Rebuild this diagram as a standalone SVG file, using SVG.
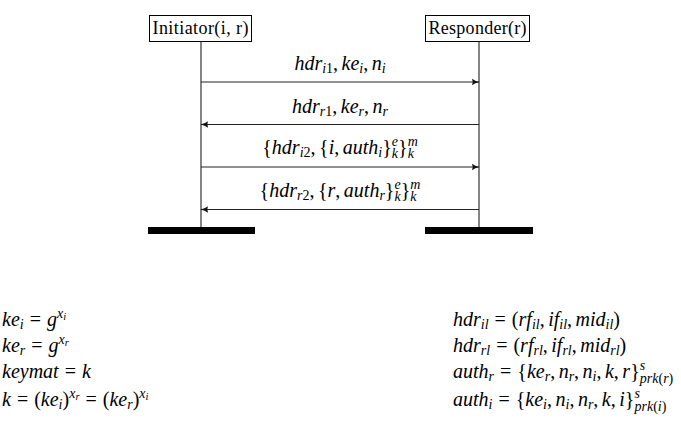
<svg xmlns="http://www.w3.org/2000/svg" width="681" height="434" viewBox="0 0 681 434">
<style>
text{font-family:"Liberation Serif","DejaVu Serif",serif;font-size:18px;fill:#000}
.m{font-style:italic;font-size:20px}
.u{font-style:normal}
.s{font-size:14px}
.ss{font-size:10.5px}
.ll{stroke:#333;stroke-width:1.2;fill:none}
.msg{stroke:#222;stroke-width:1;fill:none;marker-end:url(#ah)}
.box{fill:#fff;stroke:#000;stroke-width:1}
.bar{fill:#000}
</style>
<defs>
<marker id="ah" markerWidth="8" markerHeight="8" viewBox="0 0 8 8" refX="7" refY="4" orient="auto" markerUnits="userSpaceOnUse">
<path d="M0,0.8 Q3,3.2 7.5,4 Q3,4.8 0,7.2 Q1.5,4 0,0.8 Z" fill="#111"/>
</marker>
</defs>

<g id="initiator">
<rect class="box" x="149.5" y="15.5" width="102" height="26"/>
<text x="200.5" y="34" text-anchor="middle" textLength="96">Initiator(i, r)</text>
<rect class="bar" x="148" y="227" width="107" height="7"/>
</g>

<g id="responder">
<rect class="box" x="425.5" y="15.5" width="104" height="26"/>
<text x="477.5" y="34" text-anchor="middle" textLength="98">Responder(r)</text>
<rect class="bar" x="425" y="227" width="108" height="7"/>
</g>

<g id="connectors">
<line class="ll" x1="201" y1="41.5" x2="201" y2="227"/>
<line class="ll" x1="479" y1="41.5" x2="479" y2="227"/>
<line class="msg" x1="201" y1="82" x2="479" y2="82"/>
<line class="msg" x1="479" y1="124.5" x2="201" y2="124.5"/>
<line class="msg" x1="201" y1="167" x2="479" y2="167"/>
<line class="msg" x1="479" y1="209.5" x2="201" y2="209.5"/>
</g>

<g id="labels">
<text x="340" y="70" text-anchor="middle" class="m">hdr<tspan class="s" dy="3">i</tspan><tspan class="s u">1</tspan><tspan class="u" dy="-3">,</tspan><tspan dx="3.5">ke</tspan><tspan class="s" dy="3">i</tspan><tspan class="u" dy="-3">,</tspan><tspan dx="3.5">n</tspan><tspan class="s" dy="3">i</tspan></text>
<text x="340" y="113" text-anchor="middle" class="m">hdr<tspan class="s" dy="3">r</tspan><tspan class="s u">1</tspan><tspan class="u" dy="-3">,</tspan><tspan dx="3.5">ke</tspan><tspan class="s" dy="3">r</tspan><tspan class="u" dy="-3">,</tspan><tspan dx="3.5">n</tspan><tspan class="s" dy="3">r</tspan></text>
<text x="340" y="154" text-anchor="middle" class="m"><tspan class="u">{</tspan>hdr<tspan class="s" dy="3">i</tspan><tspan class="s u">2</tspan><tspan class="u" dy="-3">,</tspan><tspan class="u" dx="3.5">{</tspan>i<tspan class="u">,</tspan><tspan dx="3.5">auth</tspan><tspan class="s" dy="3">i</tspan><tspan class="u" dy="-3">}</tspan><tspan class="s" dy="-8">e</tspan><tspan class="s" dx="-6.2" dy="12">k</tspan><tspan class="u" dy="-4">}</tspan><tspan class="s" dy="-8">m</tspan><tspan class="s" dx="-10.1" dy="12">k</tspan></text>
<text x="340" y="197" text-anchor="middle" class="m"><tspan class="u">{</tspan>hdr<tspan class="s" dy="3">r</tspan><tspan class="s u">2</tspan><tspan class="u" dy="-3">,</tspan><tspan class="u" dx="3.5">{</tspan>r<tspan class="u">,</tspan><tspan dx="3.5">auth</tspan><tspan class="s" dy="3">r</tspan><tspan class="u" dy="-3">}</tspan><tspan class="s" dy="-8">e</tspan><tspan class="s" dx="-6.2" dy="12">k</tspan><tspan class="u" dy="-4">}</tspan><tspan class="s" dy="-8">m</tspan><tspan class="s" dx="-10.1" dy="12">k</tspan></text>
</g>

<g id="defs-left">
<text x="2" y="326" class="m">ke<tspan class="s" dy="3">i</tspan><tspan class="u" dy="-3" dx="6">=</tspan><tspan dx="6">g</tspan><tspan class="s" dy="-8">x</tspan><tspan class="ss" dy="2">i</tspan></text>
<text x="2" y="352" class="m">ke<tspan class="s" dy="3">r</tspan><tspan class="u" dy="-3" dx="6">=</tspan><tspan dx="6">g</tspan><tspan class="s" dy="-8">x</tspan><tspan class="ss" dy="2">r</tspan></text>
<text x="2" y="378" class="m">keymat<tspan class="u" dx="6">=</tspan><tspan dx="6">k</tspan></text>
<text x="2" y="406" class="m">k<tspan class="u" dx="6">=</tspan><tspan class="u" dx="6">(</tspan>ke<tspan class="s" dy="3">i</tspan><tspan class="u" dy="-3">)</tspan><tspan class="s" dy="-8">x</tspan><tspan class="ss" dy="2">r</tspan><tspan class="u" dy="6" dx="6">=</tspan><tspan class="u" dx="6">(</tspan>ke<tspan class="s" dy="3">r</tspan><tspan class="u" dy="-3">)</tspan><tspan class="s" dy="-8">x</tspan><tspan class="ss" dy="2">i</tspan></text>
</g>

<g id="defs-right">
<text x="453" y="326" class="m">hdr<tspan class="s" dy="3">il</tspan><tspan class="u" dy="-3" dx="6">=</tspan><tspan class="u" dx="6">(</tspan>rf<tspan class="s" dy="3">il</tspan><tspan class="u" dy="-3">,</tspan><tspan dx="3.5">if</tspan><tspan class="s" dy="3">il</tspan><tspan class="u" dy="-3">,</tspan><tspan dx="3.5">mid</tspan><tspan class="s" dy="3">il</tspan><tspan class="u" dy="-3">)</tspan></text>
<text x="453" y="352" class="m">hdr<tspan class="s" dy="3">rl</tspan><tspan class="u" dy="-3" dx="6">=</tspan><tspan class="u" dx="6">(</tspan>rf<tspan class="s" dy="3">rl</tspan><tspan class="u" dy="-3">,</tspan><tspan dx="3.5">if</tspan><tspan class="s" dy="3">rl</tspan><tspan class="u" dy="-3">,</tspan><tspan dx="3.5">mid</tspan><tspan class="s" dy="3">rl</tspan><tspan class="u" dy="-3">)</tspan></text>
<text x="453" y="378" class="m">auth<tspan class="s" dy="3">r</tspan><tspan class="u" dy="-3" dx="6">=</tspan><tspan class="u" dx="6">{</tspan>ke<tspan class="s" dy="3">r</tspan><tspan class="u" dy="-3">,</tspan><tspan dx="3.5">n</tspan><tspan class="s" dy="3">r</tspan><tspan class="u" dy="-3">,</tspan><tspan dx="3.5">n</tspan><tspan class="s" dy="3">i</tspan><tspan class="u" dy="-3">,</tspan><tspan dx="3.5">k</tspan><tspan class="u">,</tspan><tspan dx="3.5">r</tspan><tspan class="u">}</tspan><tspan class="s" dy="-8">s</tspan><tspan class="s" dx="-5.4" dy="13">prk</tspan><tspan class="s u">(</tspan><tspan class="s">r</tspan><tspan class="s u">)</tspan></text>
<text x="453" y="406" class="m">auth<tspan class="s" dy="3">i</tspan><tspan class="u" dy="-3" dx="6">=</tspan><tspan class="u" dx="6">{</tspan>ke<tspan class="s" dy="3">i</tspan><tspan class="u" dy="-3">,</tspan><tspan dx="3.5">n</tspan><tspan class="s" dy="3">i</tspan><tspan class="u" dy="-3">,</tspan><tspan dx="3.5">n</tspan><tspan class="s" dy="3">r</tspan><tspan class="u" dy="-3">,</tspan><tspan dx="3.5">k</tspan><tspan class="u">,</tspan><tspan dx="3.5">i</tspan><tspan class="u">}</tspan><tspan class="s" dy="-8">s</tspan><tspan class="s" dx="-5.4" dy="13">prk</tspan><tspan class="s u">(</tspan><tspan class="s">i</tspan><tspan class="s u">)</tspan></text>
</g>
</svg>
